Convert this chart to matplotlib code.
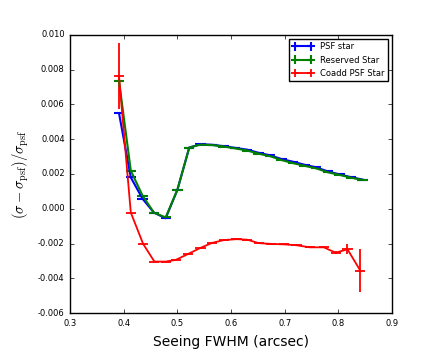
import numpy as np
import matplotlib
matplotlib.use('Agg')
import matplotlib.pyplot as plt

plt.style.use('classic')

# seeing bins (arcsec)
seeing = [0.391, 0.413, 0.435, 0.456, 0.478, 0.500, 0.522, 0.543, 0.565, 0.586, 0.608,
          0.630, 0.651, 0.673, 0.694, 0.716, 0.737, 0.759, 0.780, 0.802, 0.823, 0.845]
# (sigma - sigma_psf)/sigma_psf in units of 1e-3
psf_star = [5.5, 1.8, 0.57, -0.22, -0.55, 1.1, 3.52, 3.71, 3.68, 3.60, 3.50,
            3.40, 3.22, 3.07, 2.86, 2.70, 2.53, 2.38, 2.15, 1.98, 1.82, 1.68]
reserved = [7.36, 2.19, 0.75, -0.22, -0.50, 1.10, 3.52, 3.69, 3.66, 3.58, 3.47,
            3.35, 3.17, 3.02, 2.80, 2.62, 2.47, 2.32, 2.10, 1.95, 1.79, 1.66]

seeing_coadd = [0.391, 0.413, 0.436, 0.457, 0.478, 0.497, 0.520, 0.543, 0.565, 0.587, 0.610,
                0.630, 0.652, 0.674, 0.699, 0.722, 0.747, 0.773, 0.795, 0.817, 0.841]
coadd = [7.63, -0.22, -2.02, -3.04, -3.04, -2.94, -2.60, -2.25, -1.96, -1.80, -1.75,
         -1.78, -1.98, -2.02, -2.05, -2.10, -2.22, -2.22, -2.53, -2.33, -3.56]
coadd_err = [1.9, 0.05, 0.05, 0.05, 0.05, 0.05, 0.05, 0.05, 0.05, 0.05, 0.05,
             0.05, 0.05, 0.05, 0.05, 0.05, 0.05, 0.05, 0.08, 0.3, 1.23]

xerr = 0.0095

fig = plt.figure(figsize=(4.36, 3.49), dpi=100, facecolor='white')
ax = fig.add_axes([0.161, 0.103, 0.738, 0.797])

ax.errorbar(seeing, np.array(psf_star) * 1e-3, xerr=xerr, yerr=0.00003, color='blue',
            lw=1.5, capsize=0, label='PSF star')
ax.errorbar(seeing, np.array(reserved) * 1e-3, xerr=xerr, yerr=0.00003, color='green',
            lw=1.5, capsize=0, label='Reserved Star')
ax.errorbar(seeing_coadd, np.array(coadd) * 1e-3, xerr=xerr, yerr=np.array(coadd_err) * 1e-3,
            color='red', lw=1.3, capsize=0, label='Coadd PSF Star')

ax.set_xlim(0.3, 0.9)
ax.set_ylim(-0.006, 0.010)
ax.set_xticks(np.arange(0.3, 0.91, 0.1))
ax.set_yticks(np.arange(-0.006, 0.0101, 0.002))
ax.yaxis.set_major_formatter(matplotlib.ticker.FormatStrFormatter('%.3f'))
ax.tick_params(labelsize=6, length=3)
ax.set_xlabel('Seeing FWHM (arcsec)', fontsize=10)
ax.set_ylabel(r'$(\sigma - \sigma_{\rm psf})/\sigma_{\rm psf}$', fontsize=10.5)
ax.legend(loc='upper right', fontsize=6, numpoints=2, handlelength=2.5)

fig.savefig('out.png', dpi=100, facecolor='white')
